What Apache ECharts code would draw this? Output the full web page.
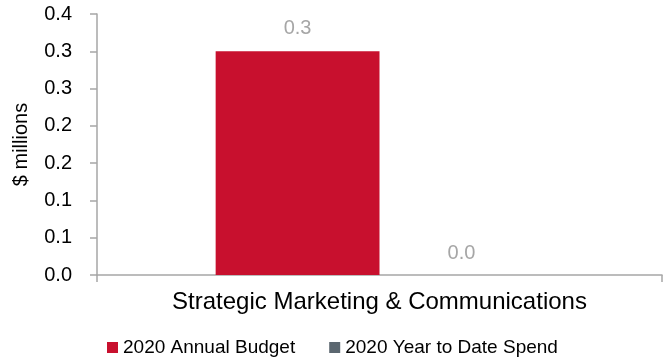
<!DOCTYPE html>
<html>
<head>
<meta charset="utf-8">
<script src="https://cdn.jsdelivr.net/npm/echarts@6/dist/echarts.min.js"></script>
<style>
	html, body { margin: 0; padding: 0; background: #fff; }
	#chart_1 { width: 668px; height: 360px; }
</style>
</head>
<body>
<div id="chart_1"></div>
<script>
var categories = ['Strategic Marketing & Communications'];
var seriesNames = ['2020 Annual Budget', '2020 Year to Date Spend'];
var budget = [0.3];
var spend = [0.0];
// Excel-style rounded tick labels for 0, 0.05, ... 0.35
var tickLabels = ['0.0', '0.1', '0.1', '0.2', '0.2', '0.3', '0.3', '0.4'];

var font = 'Liberation Sans, Arial, sans-serif';
var axisColor = '#a6a6a6';

function makeChart() {
	var myChart = echarts.init(document.getElementById('chart_1'));
	var option = {
		backgroundColor: '#fff',
		animation: false,
		textStyle: { fontFamily: font },
		grid: { left: 97, right: 6, top: 14, bottom: 85, containLabel: false },
		legend: {
			top: 333,
			left: 102,
			itemWidth: 11,
			itemHeight: 11,
			itemGap: 34,
			icon: 'rect',
			textStyle: { fontSize: 19, color: '#000', fontFamily: font },
			data: seriesNames
		},
		xAxis: {
			type: 'category',
			data: categories,
			axisLine: { lineStyle: { color: axisColor, width: 1.5 } },
			axisTick: { show: true, length: 7, lineStyle: { color: axisColor, width: 1.5 } },
			axisLabel: { fontSize: 24, color: '#000', margin: 15, fontFamily: font }
		},
		yAxis: {
			type: 'value',
			min: 0,
			max: 0.35,
			interval: 0.05,
			name: '$ millions',
			nameLocation: 'middle',
			nameGap: 66,
			nameTextStyle: { fontSize: 20, color: '#000', fontFamily: font },
			splitLine: { show: false },
			axisLine: { show: true, lineStyle: { color: axisColor, width: 1.5 } },
			axisTick: { show: true, length: 7, lineStyle: { color: axisColor, width: 1.5 } },
			axisLabel: {
				fontSize: 20,
				color: '#000',
				margin: 25,
				fontFamily: font,
				formatter: function (v) {
					return tickLabels[Math.round(v / 0.05)];
				}
			}
		},
		series: [{
			name: seriesNames[0],
			type: 'bar',
			data: budget,
			barWidth: '29%',
			barGap: '0%',
			itemStyle: { color: '#c8102e' },
			label: {
				show: true, position: 'top', distance: 13, fontSize: 20, color: '#a6a6a6',
				fontFamily: font,
				formatter: function (p) { return p.value.toFixed(1); }
			}
		}, {
			name: seriesNames[1],
			type: 'bar',
			data: spend,
			barWidth: '29%',
			itemStyle: { color: '#5b6770' },
			label: {
				show: true, position: 'top', distance: 12, fontSize: 20, color: '#a6a6a6',
				fontFamily: font,
				formatter: function (p) { return p.value.toFixed(1); }
			}
		}]
	};
	myChart.setOption(option);
}
makeChart();
</script>
</body>
</html>
